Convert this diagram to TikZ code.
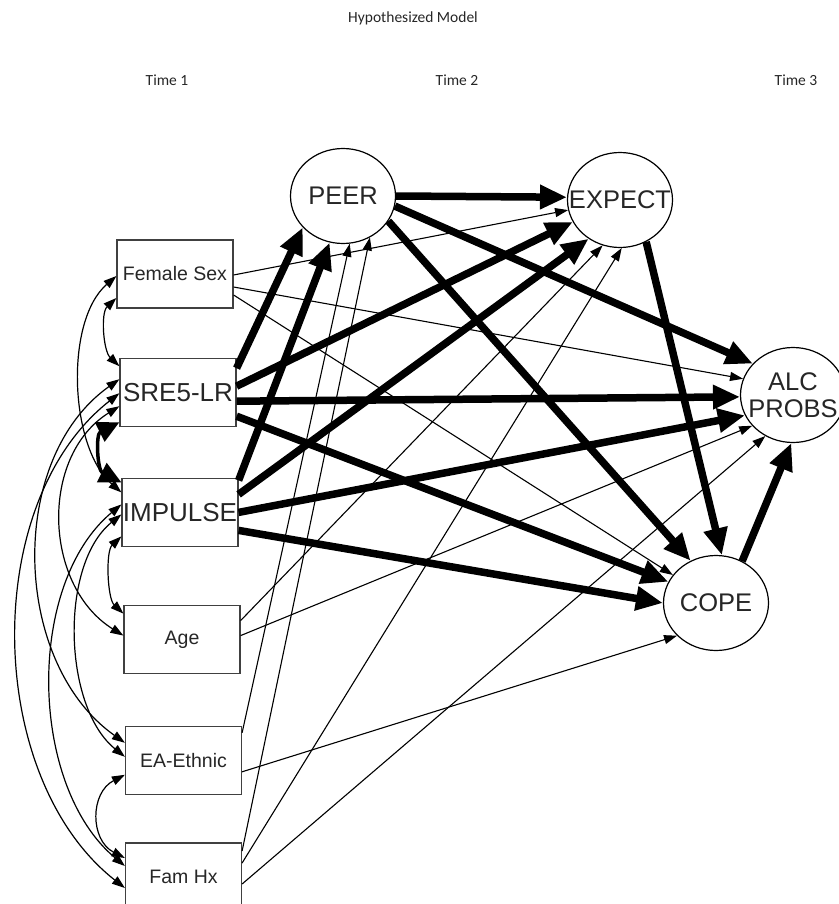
\documentclass[tikz,border=0pt]{standalone}
\usepackage{fontspec}
\setmainfont{Liberation Sans}
\newfontfamily\titlefont{Carlito}
\usetikzlibrary{shapes.geometric, positioning, arrows.meta}

\begin{document}
\begin{tikzpicture}[x=1pt, y=1pt]
    \tikzset{observed/.style={rectangle, draw=black!75, line width=1.2pt, minimum width=116pt, minimum height=68pt, inner sep=0pt, text=black!85, font=\fontsize{19.5}{22}\selectfont}}
    \tikzset{bigobs/.style={observed, font=\fontsize{26}{30}\selectfont}}
    \tikzset{latent/.style={ellipse, draw=black, line width=1.2pt, fill=white, minimum width=105pt, minimum height=95pt, inner sep=0pt, label={[font=\fontsize{25.5}{27}\selectfont, text=black!85, align=center]center:#1}}}
    \tikzset{heading/.style={font=\titlefont\fontsize{15.5}{18}\selectfont, text=black!85}}
    \tikzset{strong/.style={line width=7.5pt, -{Triangle[length=27pt,width=23pt]}}}
    \tikzset{weak/.style={line width=1.1pt, -{Triangle[length=13pt,width=9pt]}}}
    \tikzset{covar/.style={line width=1.2pt, {Triangle[length=13pt,width=9pt]}-{Triangle[length=13pt,width=9pt]}}}
    \tikzset{covbig/.style={line width=3.5pt, {Triangle[length=22pt,width=21pt]}-{Triangle[length=22pt,width=21pt]}}}
    \useasboundingbox (0,0) rectangle (838,-904);

    \node[heading] (title) at (413,-18) {Hypothesized Model};
    \node[heading] (t1) at (167,-80) {Time 1};
    \node[heading] (t2) at (457,-80) {Time 2};
    \node[heading] (t3) at (796,-80) {Time 3};

    \begin{scope}[node distance=50pt]
    \node[observed] at (175,-274) (fem) {Female Sex};
    \node[bigobs, below=49pt of fem, xshift=3pt] (sre) {SRE5-LR};
    \node[bigobs, below=51pt of sre, xshift=2pt] (imp) {IMPULSE};
    \node[observed, below=58pt of imp, xshift=2pt] (age) {Age};
    \node[observed, below=52pt of age, xshift=1.5pt] (eth) {EA-Ethnic};
    \node[observed, below=47pt of eth] (fam) {Fam Hx};
    \end{scope}

    \node[latent=PEER] at (343,-196) (peer) {};
    \node[latent=EXPECT] at (620,-200) (expect) {};
    \node[latent={ALC\\PROBS}] at (793,-395) (alc) {};
    \node[latent=COPE] at (716,-603) (cope) {};

    % correlations among time 1 measures
    \draw[covar] ([yshift=-24pt]fem.west) .. controls +(-16,-15) and +(-16,15) .. ([yshift=26pt]sre.west);
    \draw[covbig] ([yshift=-30pt]sre.west) .. controls +(-24,-12) and +(-24,12) .. ([yshift=30pt]imp.west);
    \draw[covar] ([yshift=-2pt]fem.west) .. controls +(-52,-45) and +(-52,45) .. ([yshift=20pt]imp.west);
    \draw[covar] ([yshift=-24pt]imp.west) .. controls +(-16,-15) and +(-16,15) .. ([yshift=26pt]age.west);
    \draw[covar] ([yshift=-14pt]sre.west) .. controls +(-80,-50) and +(-80,50) .. ([yshift=4pt]age.west);
    \draw[covar] ([yshift=-2pt]imp.west) .. controls +(-62,-50) and +(-62,50) .. ([yshift=4pt]eth.west);
    \draw[covar] ([yshift=13pt]sre.west) .. controls +(-113,-80) and +(-113,80) .. ([yshift=18pt]eth.west);
    \draw[covar] ([yshift=8pt]imp.west) .. controls +(-96,-80) and +(-96,80) .. ([yshift=11pt]fam.west);
    \draw[covar] ([yshift=-1pt]sre.west) .. controls +(-140,-110) and +(-140,110) .. ([yshift=-11pt]fam.west);
    \draw[covar] ([yshift=-14pt]eth.west) .. controls +(-35,-18) and +(-35,18) .. ([yshift=19pt]fam.west);

    % small paths
    \draw[weak] ([yshift=-1pt]fem.east) -- (expect.191);
    \draw[weak] ([yshift=-13pt]fem.east) -- (alc.162);
    \draw[weak] ([yshift=-21pt]fem.east) -- (cope.147);
    \draw[weak] ([yshift=19pt]age.east) -- (expect.249);
    \draw[weak] ([yshift=4pt]age.east) -- (alc.217);
    \draw[weak] ([yshift=28pt]eth.east) -- (peer.278);
    \draw[weak] ([yshift=-11pt]eth.east) -- (cope.220);
    \draw[weak] ([yshift=26pt]fam.east) -- (peer.303);
    \draw[weak] ([yshift=14pt]fam.east) -- (expect.272);
    \draw[weak] ([yshift=-7pt]fam.east) -- (alc.236);

    % large paths
    \draw[strong] ([yshift=24pt]sre.east) -- (peer.218);
    \draw[strong] ([yshift=6pt]sre.east) -- (expect.205);
    \draw[strong] ([yshift=-9pt]sre.east) -- (alc.182);
    \draw[strong] ([yshift=-24pt]sre.east) -- (cope.156);
    \draw[strong] ([yshift=32pt]imp.east) -- (peer.254);
    \draw[strong] ([yshift=18pt]imp.east) -- (expect.231);
    \draw[strong] (imp.east) -- (alc.203);
    \draw[strong] ([yshift=-18pt]imp.east) -- (cope.180);
    \draw[strong] (peer.east) -- (expect.177);
    \draw[strong] (peer.349) -- (alc.142);
    \draw[strong] (peer.331) -- (cope.121);
    \draw[strong] (expect.302) -- (cope.83);
    \draw[strong] (cope.58) -- (alc.268);
\end{tikzpicture}
\end{document}
